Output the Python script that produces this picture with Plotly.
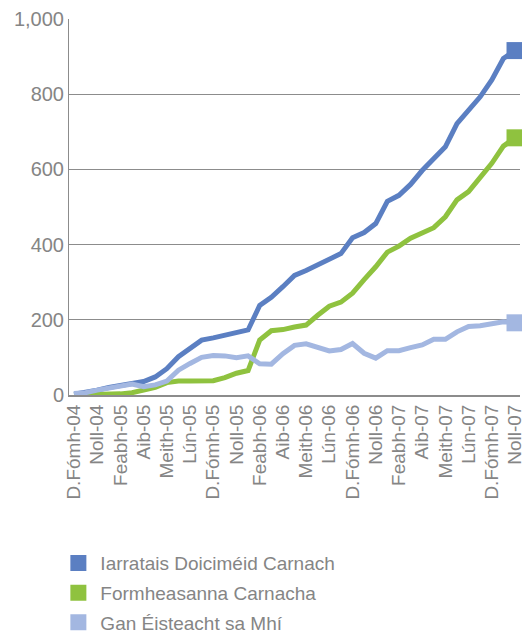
import plotly.graph_objects as go

# month labels, Oct 2004 .. Dec 2007
month_names = ["Ean", "Feabh", "Márta", "Aib", "Beal", "Meith",
               "Iúil", "Lún", "M.Fómh", "D.Fómh", "Samh", "Noll"]
months = []
for yr in range(4, 8):
    for m, name in enumerate(month_names):
        if yr == 4 and m < 9:
            continue
        months.append(f"{name}-{yr:02d}")

iarratais = [2, 6, 13, 20, 26, 33, 36, 48, 70, 102,
             126, 146, 152, 158, 164, 173, 238, 260, 288, 318,
             331, 346, 361, 376, 418, 432, 456, 515, 531, 560,
             597, 627, 660, 722, 758, 793, 838, 895, 916]
formheasanna = [0, 0, 1, 2, 3, 6, 13, 20, 33, 37,
                37, 37, 38, 46, 58, 65, 146, 171, 174, 181,
                186, 212, 236, 247, 271, 307, 341, 380, 396, 417,
                430, 445, 474, 519, 541, 576, 616, 662, 684]
gan_eisteacht = [4, 6, 13, 18, 24, 29, 22, 27, 37, 66,
                 84, 100, 105, 104, 99, 104, 83, 82, 110, 132,
                 136, 125, 117, 121, 137, 111, 98, 118, 118, 126,
                 133, 148, 148, 168, 182, 184, 191, 195, 192]

series = [
    ("Iarratais Doiciméid Carnach", iarratais, "#5b7fc2"),
    ("Formheasanna Carnacha", formheasanna, "#8fc23f"),
    ("Gan Éisteacht sa Mhí", gan_eisteacht, "#a3b7e1"),
]

grey = "#8c8c8c"
font = "Liberation Sans"

fig = go.Figure()
for i, (name, vals, col) in enumerate(series):
    fig.add_trace(go.Scatter(
        x=months, y=vals, mode="lines", name=name,
        line=dict(color=col, width=5),
        showlegend=False,
    ))
    # square on the last month
    fig.add_trace(go.Scatter(
        x=months[-1:], y=vals[-1:], mode="markers", name=name,
        marker=dict(symbol="square", color=col, size=17),
        cliponaxis=False, showlegend=False,
    ))
    # legend swatch
    fig.add_trace(go.Scatter(
        x=[None], y=[None], mode="markers", name=name,
        marker=dict(symbol="square", color=col, size=16),
        legendgroup=str(i),
    ))

# page body has an 8px margin, so the figure is 8px smaller each way
fig.update_layout(
    width=522, height=627,
    margin=dict(l=61, r=10, t=11, b=240, autoexpand=False),
    paper_bgcolor="white", plot_bgcolor="white",
    font=dict(family=font, color="#858585", size=19),
    legend=dict(x=-0.028, y=0.145, yref="container",
                xanchor="left", yanchor="top",
                font=dict(size=19, color="#858585"),
                tracegroupgap=2, itemwidth=34),
)
fig.update_xaxes(
    type="category", range=[-0.43, 38.43],
    tickvals=months[::2], tickangle=-90,
    showgrid=False, showline=True, linecolor=grey, linewidth=2,
    ticks="", tickfont=dict(size=19),
)
fig.update_yaxes(
    range=[0, 1000], dtick=200, tickformat=",",
    showgrid=True, gridcolor=grey, gridwidth=1,
    showline=True, linecolor=grey, linewidth=1,
    zeroline=False, ticks="", tickfont=dict(size=20),
)

fig.write_html("out.html")
